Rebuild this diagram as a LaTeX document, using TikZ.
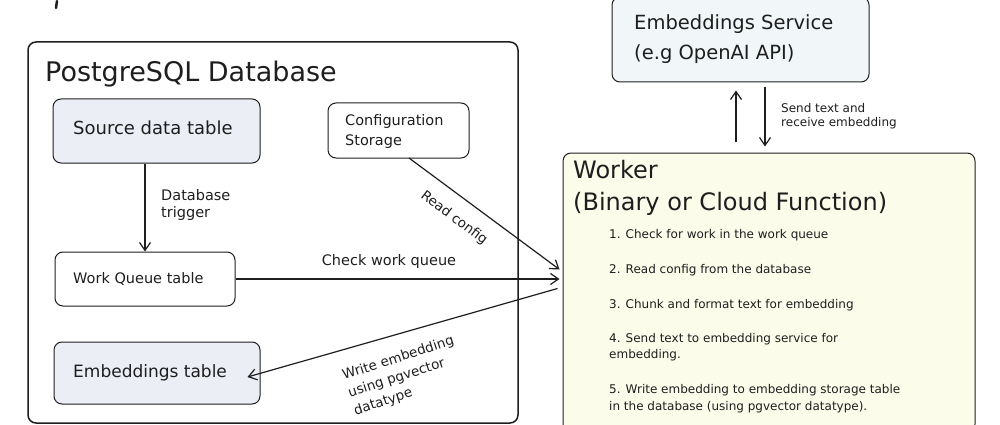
\documentclass[tikz,border=0pt]{standalone}
\usepackage{fontspec}
\setmainfont{DejaVu Sans}
\usetikzlibrary{arrows.meta,calc}
\definecolor{ink}{HTML}{1E1E1E}
\definecolor{srcfill}{HTML}{EBEFF5}
\definecolor{svcfill}{HTML}{F1F7F8}
\definecolor{wkfill}{HTML}{FCFCEB}
\newcommand{\fs}[1]{\fontsize{#1}{#1}\selectfont}
\begin{document}
\begin{tikzpicture}[x=1pt,y=-1pt,
  box/.style={draw=ink, rounded corners=8pt, line width=1pt, inner sep=0pt},
  txt/.style={anchor=base west, inner sep=0pt, text=ink},
  arr/.style={draw=ink, line width=1.2pt, -{Straight Barb[length=8pt,width=11pt]}},
]
\useasboundingbox (0,0) rectangle (1000,425);
% fragment of a cut-off title
\draw[ink, line width=2.5pt, line cap=round] (57,1) -- (56,8);

% PostgreSQL database
\node[box, line width=1.5pt, minimum width=490pt, minimum height=381pt] (db) at (273,232.5) {};
\node[txt, font=\fs{27}] (dbt) at (45,82) {PostgreSQL Database};

\node[box, fill=srcfill, minimum width=207pt, minimum height=64pt] (src) at (156.5,131) {};
\node[txt, font=\fs{18}] (srct) at (73,135) {Source data table};

\node[box, minimum width=141pt, minimum height=55pt] (cfg) at (398.5,130.5) {};
\node[txt, font=\fs{14.5}] (cfgt1) at (345,125) {Configuration};
\node[txt, font=\fs{14.5}] (cfgt2) at (345,145) {Storage};

\node[box, minimum width=180pt, minimum height=54pt] (wq) at (145,279) {};
\node[txt, font=\fs{14.5}] (wqt) at (73,283) {Work Queue table};

\node[box, fill=srcfill, minimum width=206pt, minimum height=62pt] (emb) at (157,373) {};
\node[txt, font=\fs{17}] (embt) at (73,377) {Embeddings table};

% Embeddings service
\node[box, fill=svcfill, minimum width=257pt, minimum height=85pt] (svc) at (740.5,39.5) {};
\node[txt, font=\fs{19.5}] (svct1) at (634,30) {Embeddings Service};
\node[txt, font=\fs{19.5}] (svct2) at (634,60) {(e.g OpenAI API)};

% Worker
\node[box, fill=wkfill, minimum width=412pt, minimum height=279pt] (wk) at (769,292.5) {};
\node[txt, font=\fs{24}] (wkt1) at (573,178) {Worker};
\node[txt, font=\fs{24}] (wkt2) at (573,210) {(Binary or Cloud Function)};
\begin{scope}[every node/.style={txt, font=\fs{12}}]
\node (i1) at (609,238) {1. Check for work in the work queue};
\node (i2) at (609,273) {2. Read config from the database};
\node (i3) at (609,308) {3. Chunk and format text for embedding};
\node (i4a) at (609,342) {4. Send text to embedding service for};
\node (i4b) at (609,358) {embedding.};
\node (i5a) at (609,393) {5. Write embedding to embedding storage table};
\node (i5b) at (609,410) {in the database (using pgvector datatype).};
\end{scope}

% connectors
\draw[arr] (src.south -| wq.north) -- (wq.north);
\node[txt, font=\fs{14.5}] (trg1) at (161,200) {Database};
\node[txt, font=\fs{14.5}] (trg2) at (161,217) {trigger};

\coordinate (rc) at (409,158);
\draw[arr] (rc) -- ([xshift=-3pt,yshift=23pt]wk.west);
\node[inner sep=0pt, text=ink, font=\fs{13.5}, rotate=-37] (rct) at (454,218) {Read config};

\draw[arr] (wq.east) -- ([xshift=-3pt]wq.east -| wk.west);
\node[inner sep=0pt, text=ink, font=\fs{14.5}] (cwq) at (389,261) {Check work queue};

\draw[arr] ([xshift=-5pt,yshift=4pt]wk.west) -- ([xshift=-13pt,yshift=-4pt]emb.east);
\node[inner sep=0pt, text=ink, font=\fs{13.5}, rotate=18, align=left] (wet) at (404,376)
  {Write embedding\\[5pt]using pgvector\\[5pt]datatype};

\coordinate (up) at (736,142);
\draw[arr] (up) -- ([yshift=-8pt]up |- svc.south);
\coordinate (dn) at (765,87);
\draw[arr] (dn) -- ([yshift=6pt]dn |- wk.north);
\node[txt, font=\fs{12}] (st1) at (781,113) {Send text and};
\node[txt, font=\fs{12}] (st2) at (781,127) {receive embedding};
\end{tikzpicture}
\end{document}
